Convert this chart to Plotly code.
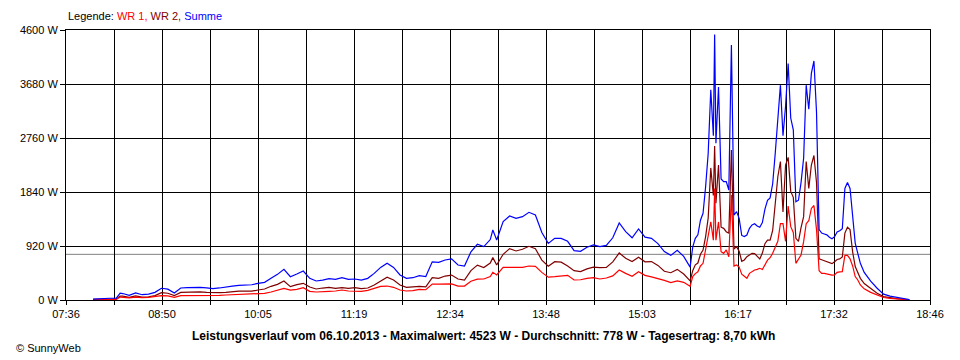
import datetime as dt
import plotly.graph_objects as go

DAY = "2013-10-06"

TIMES = [
    "07:57", "08:00", "08:05", "08:10", "08:15", "08:18", "08:20", "08:25", "08:30", "08:35",
    "08:40", "08:45", "08:50", "08:55", "09:00", "09:05", "09:10", "09:15", "09:20", "09:25",
    "09:30", "09:35", "09:40", "09:45", "09:50", "09:55", "10:00", "10:05", "10:10", "10:15",
    "10:20", "10:25", "10:30", "10:35", "10:40", "10:45", "10:50", "10:55", "11:00", "11:05",
    "11:10", "11:15", "11:20", "11:25", "11:30", "11:35", "11:40", "11:45", "11:50", "11:55",
    "12:00", "12:05", "12:10", "12:15", "12:20", "12:25", "12:30", "12:35", "12:40", "12:45",
    "12:50", "12:55", "13:00", "13:05", "13:07", "13:10", "13:15", "13:20", "13:25", "13:30",
    "13:35", "13:40", "13:45", "13:50", "13:55", "14:00", "14:05", "14:10", "14:15", "14:20",
    "14:25", "14:30", "14:35", "14:40", "14:45", "14:50", "14:55", "15:00", "15:05", "15:10",
    "15:15", "15:20", "15:25", "15:30", "15:35", "15:40", "15:42", "15:44", "15:46", "15:48",
    "15:50", "15:52", "15:54", "15:56", "15:58", "15:59", "16:00", "16:02", "16:04", "16:06",
    "16:08", "16:10", "16:12", "16:14", "16:16", "16:18", "16:20", "16:22", "16:24", "16:26",
    "16:28", "16:30", "16:32", "16:34", "16:36", "16:38", "16:40", "16:42", "16:44", "16:46",
    "16:48", "16:50", "16:52", "16:54", "16:56", "16:58", "17:00", "17:02", "17:04", "17:06",
    "17:08", "17:10", "17:12", "17:14", "17:16", "17:18", "17:20", "17:22", "17:24", "17:26",
    "17:28", "17:30", "17:32", "17:34", "17:36", "17:38", "17:40", "17:42", "17:44", "17:46",
    "17:48", "17:50", "17:52", "17:55", "18:00", "18:05", "18:10", "18:15", "18:20", "18:25",
    "18:30",
]

WR1 = [
    6, 8, 10, 12, 12, 50, 45, 35, 50, 40,
    45, 55, 75, 70, 45, 75, 75, 75, 78, 75,
    72, 80, 85, 90, 100, 100, 110, 114, 114, 136,
    170, 199, 170, 181, 210, 147, 136, 136, 147, 153,
    170, 153, 147, 147, 165, 199, 233, 238, 216, 170,
    153, 159, 181, 175, 270, 270, 273, 275, 238, 238,
    320, 355, 358, 400, 471, 426, 556, 556, 556, 556,
    579, 574, 470, 390, 397, 405, 420, 341, 345, 369,
    380, 358, 375, 410, 511, 454, 405, 483, 420, 395,
    370, 335, 295, 324, 301, 235, 400, 450, 480, 580,
    625, 850, 1100, 1330, 1020, 1900, 1020, 1330, 823, 795,
    852, 738, 1790, 579, 596, 560, 440, 398, 369, 454,
    483, 511, 522, 540, 520, 590, 680, 720, 795, 900,
    1000, 1300, 1300, 1000, 1600, 1250, 1150, 625, 700, 767,
    994, 1300, 1350, 1560, 1610, 1200, 500, 454, 455, 445,
    430, 425, 426, 470, 480, 483, 760, 760, 700, 580,
    400, 341, 256, 190, 130, 85, 42, 28, 18, 9,
    3,
]

WR2 = [
    9, 12, 15, 18, 18, 65, 65, 45, 70, 50,
    55, 75, 125, 115, 75, 130, 135, 140, 137, 130,
    123, 125, 130, 145, 150, 150, 150, 170, 187, 233,
    267, 323, 227, 262, 284, 222, 188, 204, 216, 199,
    210, 199, 211, 193, 204, 255, 323, 387, 340, 256,
    216, 221, 233, 225, 380, 370, 408, 425, 358, 341,
    500, 595, 552, 630, 722, 596, 779, 875, 835, 864,
    915, 874, 680, 575, 653, 645, 580, 499, 485, 531,
    560, 551, 555, 650, 801, 710, 655, 727, 650, 655,
    590, 490, 465, 522, 443, 325, 500, 600, 630, 780,
    852, 1080, 1400, 2250, 1780, 2623, 1650, 2300, 1240, 1221,
    1164, 1136, 2554, 869, 909, 830, 660, 682, 738, 767,
    795, 789, 738, 700, 800, 960, 1020, 1020, 1185, 1600,
    2100, 2360, 1500, 2300, 2430, 1850, 1750, 1050, 1000, 1233,
    1420, 2360, 1900, 2300, 2462, 2000, 700, 686, 670, 665,
    640, 620, 653, 690, 700, 732, 1140, 1240, 1200, 820,
    570, 454, 369, 280, 190, 115, 58, 37, 24, 13,
    5,
]

SUMME = [
    15, 20, 25, 30, 30, 115, 110, 80, 120, 90,
    100, 130, 200, 185, 120, 205, 210, 215, 215, 205,
    195, 205, 215, 235, 250, 250, 260, 284, 301, 369,
    437, 522, 397, 443, 494, 369, 324, 340, 363, 352,
    380, 352, 358, 340, 369, 454, 556, 625, 556, 426,
    369, 380, 414, 400, 650, 640, 681, 700, 596, 579,
    820, 950, 910, 1030, 1193, 1022, 1335, 1431, 1391, 1420,
    1494, 1448, 1150, 965, 1050, 1050, 1000, 840, 830, 900,
    940, 909, 930, 1060, 1312, 1164, 1060, 1210, 1070, 1050,
    960, 825, 760, 846, 744, 560, 900, 1050, 1110, 1360,
    1477, 1930, 2500, 3580, 2800, 4523, 2670, 3630, 2063, 2016,
    2016, 1874, 4344, 1448, 1505, 1390, 1100, 1080, 1107, 1221,
    1278, 1300, 1260, 1240, 1320, 1550, 1700, 1740, 1980, 2500,
    3100, 3660, 2800, 3300, 4030, 3100, 2900, 1675, 1700, 2000,
    2414, 3660, 3250, 3860, 4072, 3200, 1200, 1140, 1125, 1110,
    1070, 1045, 1079, 1160, 1180, 1215, 1900, 2000, 1900, 1400,
    970, 795, 625, 470, 320, 200, 100, 65, 42, 22,
    8,
]

AVERAGE_W = 778
Y_TICKS = [0, 920, 1840, 2760, 3680, 4600]
Y_TICK_LABELS = ["0 W", "920 W", "1840 W", "2760 W", "3680 W", "4600 W"]
X_TICK_LABELS = ["07:36", "08:50", "10:05", "11:19", "12:34", "13:48",
                 "15:03", "16:17", "17:32", "18:46"]
X_START = "07:36"
X_END = "18:46"

TITLE = ("Leistungsverlauf vom 06.10.2013 - Maximalwert: 4523 W - "
         "Durchschnitt: 778 W - Tagesertrag: 8,70 kWh")


def to_dt(hm):
    return dt.datetime.strptime(f"{DAY} {hm}", "%Y-%m-%d %H:%M")


x = [to_dt(t) for t in TIMES]
t0 = to_dt(X_START)
t1 = to_dt(X_END)
n = len(X_TICK_LABELS) - 1
step = (t1 - t0) / n
major = [t0 + step * k for k in range(n + 1)]
minor = [t0 + step * k + step / 2 for k in range(n)]

FONT = "Liberation Sans, Arial, sans-serif"
PLOT_W = 870
PLOT_H = 270

fig = go.Figure()
fig.add_trace(go.Scatter(x=x, y=WR2, mode="lines", line=dict(color="#800000", width=1.2),
                         name="WR 2"))
fig.add_trace(go.Scatter(x=x, y=WR1, mode="lines", line=dict(color="#FF0000", width=1.2),
                         name="WR 1"))
fig.add_trace(go.Scatter(x=x, y=SUMME, mode="lines", line=dict(color="#0000FF", width=1.2),
                         name="Summe"))

fig.add_shape(type="line", xref="paper", x0=0, x1=1, yref="y", y0=AVERAGE_W, y1=AVERAGE_W,
              line=dict(color="#808080", width=1), layer="below")

fig.update_xaxes(
    type="date", range=[t0, t1],
    tickmode="array", tickvals=major, ticktext=X_TICK_LABELS,
    showgrid=True, gridcolor="black", gridwidth=1,
    ticks="outside", ticklen=4, tickcolor="black", tickwidth=1,
    minor=dict(tickmode="array", tickvals=minor, showgrid=True, gridcolor="black", gridwidth=1,
               ticks="outside", ticklen=4, tickcolor="black"),
    showline=True, linecolor="black", linewidth=1, mirror=True,
    zeroline=False,
    tickfont=dict(family=FONT, size=11, color="black"),
    fixedrange=True,
)
fig.update_yaxes(
    range=[0, 4600],
    tickmode="array", tickvals=Y_TICKS, ticktext=Y_TICK_LABELS,
    showgrid=True, gridcolor="black", gridwidth=1,
    ticks="outside", ticklen=5, tickcolor="black", tickwidth=1,
    showline=True, linecolor="black", linewidth=1, mirror=True,
    zeroline=False,
    tickfont=dict(family=FONT, size=11, color="black"),
    fixedrange=True,
)

fig.add_annotation(
    xref="paper", yref="paper", x=0, y=1 + 14 / PLOT_H, xanchor="left", yanchor="middle",
    showarrow=False,
    text=("Legende: <span style='color:#FF0000'>WR 1,</span> "
          "<span style='color:#800000'>WR 2,</span> "
          "<span style='color:#0000FF'>Summe</span>"),
    font=dict(family=FONT, size=11, color="black"),
)
fig.add_annotation(
    xref="paper", yref="paper", x=(480 - 60) / PLOT_W, y=-36 / PLOT_H,
    xanchor="center", yanchor="middle",
    showarrow=False, text=f"<b>{TITLE}</b>",
    font=dict(family=FONT, size=12, color="black"),
)
fig.add_annotation(
    xref="paper", yref="paper", x=-52 / PLOT_W, y=-48 / PLOT_H, xanchor="left", yanchor="middle",
    showarrow=False, text="© SunnyWeb",
    font=dict(family=FONT, size=11, color="black"),
)

# The page body has an 8 px margin, so the figure is 8 px smaller and margins shifted.
fig.update_layout(
    width=952, height=352,
    margin=dict(l=52, r=30, t=22, b=60),
    paper_bgcolor="white", plot_bgcolor="white",
    showlegend=False,
)

fig.write_html("out.html")
